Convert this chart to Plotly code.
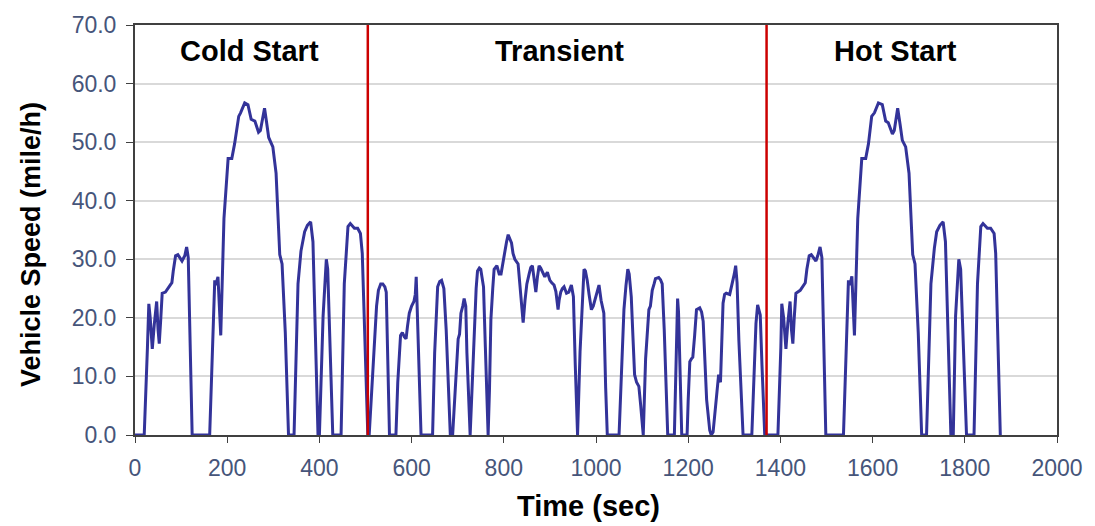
import plotly.graph_objects as go

# FTP-75 schedule, vehicle speed (mile/h) against time (sec), one list pair per phase
cold_time = [0, 20, 27, 30, 33, 37.5, 42, 47, 50, 52.6, 56, 59, 66, 72, 76, 80, 83, 88, 93, 97,
             102, 108, 112, 115.5, 124, 162, 173, 175, 180, 186, 193, 202, 210, 216, 225, 229,
             238, 245, 252, 260, 268, 272, 281, 285, 290, 299, 306, 314, 319, 326, 333, 345,
             349, 353.6, 360, 368, 374, 381, 386, 397, 400, 404, 408, 415, 418, 429, 447, 454,
             462, 467, 476, 483, 489, 493, 505]
cold_speed = [0, 0, 15, 22.4, 20, 14.7, 19, 22.8, 18, 15.6, 20, 24.2, 24.4, 25, 25.6, 26, 28,
              30.6, 30.8, 30.3, 29.7, 30.6, 32.1, 30.3, 0, 0, 26.4, 25.6, 27, 17, 37, 47.2, 47.2,
              49.7, 54.4, 55, 56.7, 56.4, 53.9, 53.6, 51.7, 52, 55.8, 53.6, 50.8, 49.2, 44.7,
              30.8, 29.2, 17.5, 0, 0, 12, 25.8, 31.4, 34.7, 35.8, 36.4, 33, 0, 0, 12, 20.3, 30,
              28.3, 0, 0, 25.8, 35.6, 36.1, 35.3, 35.3, 34.4, 31, 0]

transient_time = [508, 514, 519.5, 524, 528, 533, 537.5, 542, 545, 548, 552, 566, 570, 576, 580,
                  584, 588, 591, 595, 600, 605, 608, 610, 612, 620.5, 645.5, 650, 656.5, 661,
                  665, 670, 675, 684, 689, 695, 701, 704, 707, 711, 714, 717.5, 720, 727, 731,
                  736, 740, 743, 747, 750, 753, 756, 760, 766, 769, 772, 776, 779, 785, 790, 794,
                  797, 801, 806, 809.5, 813, 816.7, 820, 824, 831, 836, 842, 846, 850, 855,
                  858.5, 862, 866, 869.5, 873, 876.6, 880, 884, 889, 894.5, 900, 904, 909, 913,
                  917.7, 920, 923.5, 927, 930.7, 936, 941, 946.6, 951, 955, 960, 965.4, 970, 974,
                  977, 981, 985, 990, 994, 997, 1002, 1006.5, 1011, 1017, 1021, 1024.5, 1050,
                  1055, 1060.6, 1065, 1069, 1072, 1076.5, 1080, 1083.7, 1088, 1093, 1097, 1102.5,
                  1107.6, 1111, 1114.7, 1118, 1122, 1126, 1129, 1136, 1140, 1143.6, 1148, 1155.6,
                  1170, 1177, 1179, 1186, 1197.6, 1200, 1203.5, 1207, 1210, 1214, 1218, 1225,
                  1229, 1232.5, 1236, 1240, 1246.7, 1250, 1254, 1258, 1261, 1266, 1270, 1273,
                  1275.6, 1279, 1282.6, 1290, 1293, 1297, 1300, 1303, 1306, 1310, 1319, 1338,
                  1344, 1347, 1350.6, 1353, 1356.3, 1360, 1366, 1370]
transient_speed = [0, 9, 17, 22, 24.7, 25.8, 25.8, 25.3, 24.4, 15, 0, 0, 9, 17, 17.5, 16.8, 16.4,
                   18.5, 20.8, 22, 22.8, 24, 27, 22, 0, 0, 14, 25.3, 26.2, 26.4, 25, 18, 0, 0, 8,
                   16.4, 17.2, 20.8, 22, 23.3, 22, 14, 0, 8, 19.7, 25, 28, 28.5, 28.3, 27, 25.3,
                   15, 0, 8, 19.7, 25, 28.3, 28.9, 27.5, 27.5, 29, 30.8, 33, 34.2, 33.5, 32.8,
                   31, 30, 29.2, 24, 19.2, 23, 25.8, 27.5, 28.6, 28.9, 26, 24.4, 27, 28.9, 28.5,
                   27.8, 27, 27.8, 26.4, 26, 25.6, 24.5, 21.4, 23, 24.4, 25, 25.3, 24.2, 24.4,
                   25.6, 23.6, 12, 0, 14.2, 23, 28.3, 28, 26.4, 24, 21.4, 22, 23, 24.5, 25.6, 23,
                   20.8, 8, 0, 0, 10, 21.4, 25.5, 28.3, 27.5, 23.6, 17, 10.3, 9, 8.3, 5, 0, 13,
                   18, 21.4, 22, 24.7, 25.8, 26.7, 26.9, 26.5, 25.8, 18, 0, 0, 23.3, 21, 0, 0, 6,
                   12.5, 13, 13.3, 17, 21.4, 21.7, 21, 19.4, 14, 6, 0.8, 0, 0.5, 4, 7, 10.3, 9,
                   16, 22.5, 24, 24.2, 24, 25, 26.1, 27.5, 28.9, 26, 16, 0, 0, 12, 19, 22.2,
                   21.5, 20.5, 12, 0, 0]

hot_time = [1394.6, 1401, 1403, 1407, 1412, 1416, 1421, 1424, 1427, 1430, 1433.6, 1443, 1450,
            1454, 1457.4, 1462.5, 1467, 1472, 1477, 1481, 1486, 1490, 1498.5, 1536.8, 1547.6,
            1551, 1555, 1560.6, 1567.8, 1576.5, 1585, 1591, 1598, 1604, 1612.6, 1621, 1628.4,
            1634, 1643, 1647, 1654.4, 1659.5, 1664.5, 1671.7, 1679, 1687, 1692, 1699, 1706.4,
            1717, 1721, 1726.5, 1734, 1739, 1746, 1753, 1758, 1769.8, 1775, 1777, 1780, 1787,
            1791, 1803.7, 1820, 1827.5, 1834.7, 1839.5, 1849, 1856, 1863.6, 1867, 1876, 1877]
hot_speed = [0, 15, 22.4, 20, 14.7, 19, 22.8, 18, 15.6, 20, 24.2, 24.7, 25.6, 26, 28.3, 30.6,
             30.8, 30.3, 29.7, 30.6, 32.1, 30.3, 0, 0, 26.4, 25.6, 27.1, 17, 37, 47.2, 47.2,
             49.7, 54.4, 55, 56.7, 56.4, 53.6, 53.3, 51.4, 52, 55.8, 53.1, 50.3, 49.2, 44.7,
             30.8, 29.2, 17.5, 0, 0, 12, 25.8, 31.9, 34.7, 35.8, 36.4, 33, 0, 0, 10, 20.3, 30,
             28.3, 0, 0, 25.8, 35.6, 36.1, 35.3, 35.3, 34.4, 31, 0, 0]

phase_bounds = [505, 1370]
phase_names = ["Cold Start", "Transient", "Hot Start"]

x_ticks = list(range(0, 2001, 200))
y_ticks = list(range(0, 71, 10))

FONT = "Liberation Sans, Arial, sans-serif"
TICK_COLOR = "#46557a"

fig = go.Figure()

fig.add_trace(go.Scatter(
    x=cold_time + transient_time + hot_time,
    y=cold_speed + transient_speed + hot_speed,
    mode="lines",
    line=dict(color="#333399", width=3),
    showlegend=False,
    hoverinfo="x+y",
))

# phase boundaries
for b in phase_bounds:
    fig.add_shape(type="line", xref="x", yref="y", x0=b, x1=b, y0=0, y1=70,
                  line=dict(color="#cc0000", width=2.5), layer="above")

# phase labels
label_x = [249, 920, 1649]
for name, lx in zip(phase_names, label_x):
    fig.add_annotation(x=lx, y=65.6, xref="x", yref="y", text="<b>%s</b>" % name,
                       showarrow=False, font=dict(family=FONT, size=29, color="#000000"),
                       xanchor="center", yanchor="middle")

# axis titles
fig.add_annotation(x=0.4924, y=-0.174, xref="paper", yref="paper", text="<b>Time (sec)</b>",
                   showarrow=False, font=dict(family=FONT, size=29, color="#000000"),
                   xanchor="center", yanchor="middle")
fig.add_annotation(x=-0.1136, y=0.464, xref="paper", yref="paper",
                   text="<b>Vehicle Speed (mile/h)</b>", textangle=-90, showarrow=False,
                   font=dict(family=FONT, size=27, color="#000000"),
                   xanchor="center", yanchor="middle")

fig.update_xaxes(
    range=[0, 2000], tickvals=x_ticks, ticktext=[str(v) for v in x_ticks],
    showgrid=False, zeroline=False, showline=True, mirror=True,
    linecolor="#404040", linewidth=2, ticks="outside", ticklen=6, tickwidth=1,
    tickcolor="#404040", tickfont=dict(family=FONT, size=23, color=TICK_COLOR),
    ticklabelstandoff=5,
)
fig.update_yaxes(
    range=[0, 70], tickvals=y_ticks, ticktext=["%.1f" % v for v in y_ticks],
    showgrid=True, gridcolor="#d9d9d9", gridwidth=1.5, zeroline=False,
    showline=True, mirror=True, linecolor="#404040", linewidth=2,
    ticks="outside", ticklen=7, tickwidth=1, tickcolor="#404040",
    tickfont=dict(family=FONT, size=23, color=TICK_COLOR),
    ticklabelstandoff=5,
)

fig.update_layout(
    width=1095, height=526,
    margin=dict(l=135, r=36, t=15, b=91),
    paper_bgcolor="#ffffff", plot_bgcolor="#ffffff",
    font=dict(family=FONT),
)

fig.write_html("out.html")
